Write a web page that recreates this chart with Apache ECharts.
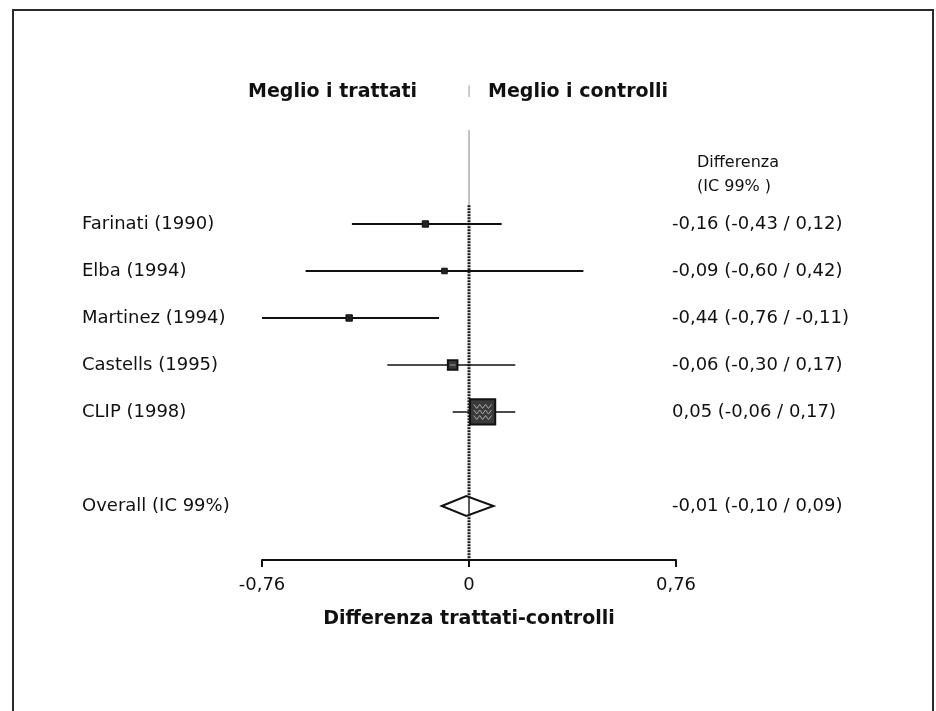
<!DOCTYPE html>
<html><head><meta charset="utf-8">
<script src="https://cdn.jsdelivr.net/npm/echarts@6/dist/echarts.min.js"></script>
<style>html,body{margin:0;padding:0;background:#fff}#c{width:936px;height:711px}</style>
</head><body><div id="c"></div>
<script>
// ---- data ----
const studies = ['Farinati (1990)', 'Elba (1994)', 'Martinez (1994)', 'Castells (1995)', 'CLIP (1998)'];
const estimate = [-0.16, -0.09, -0.44, -0.06, 0.05];
const lower    = [-0.43, -0.60, -0.76, -0.30, -0.06];
const upper    = [ 0.12,  0.42, -0.11,  0.17,  0.17];
const weight   = [4, 3, 4, 9, 62];           // relative study weight (box area)
const rows     = [0, 1, 2, 3, 4];
const overallLabel = 'Overall (IC 99%)';
const overall  = { est: -0.01, lo: -0.10, hi: 0.09, row: 6 };
const xTicks   = [-0.76, 0, 0.76];
const headLeft = 'Meglio i trattati';
const headRight = 'Meglio i controlli';
const colHead1 = 'Differenza';
const colHead2 = '(IC 99% )';
const xName = 'Differenza trattati-controlli';

const fmt = v => (v < 0 ? '-' : '') + Math.abs(v).toFixed(2).replace('.', ',');
const fmtTick = v => v === 0 ? '0' : fmt(v);
const ciText = (e, l, h) => fmt(e) + ' (' + fmt(l) + ' / ' + fmt(h) + ')';

const FONT = 'DejaVu Sans';
const chart = echarts.init(document.getElementById('c'), null, { renderer: 'canvas' });

const studyData = studies.map((s, i) => [estimate[i], lower[i], upper[i], rows[i], weight[i]]);

const LABEL_X = 82, VAL_X = 672;

chart.setOption({
  backgroundColor: '#ffffff',
  animation: false,
  grid: { left: 262, right: 260, top: 83, bottom: 151 },
  xAxis: {
    type: 'value', min: -0.76, max: 0.76, interval: 0.76, position: 'bottom',
    splitLine: { show: false },
    axisLine: { show: true, onZero: false, lineStyle: { color: '#111', width: 2 } },
    axisTick: { show: true, length: 7, lineStyle: { color: '#111', width: 2 } },
    axisLabel: { color: '#111', fontFamily: FONT, fontSize: 18, margin: 16,
      formatter: v => { const t = xTicks.find(x => Math.abs(x - v) < 1e-6); return t === undefined ? '' : fmtTick(t); } },
    name: xName, nameLocation: 'middle', nameGap: 50,
    nameTextStyle: { color: '#111', fontFamily: FONT, fontSize: 19, fontWeight: 'bold' }
  },
  yAxis: { type: 'value', min: -3, max: 7.15, inverse: true, show: false },
  graphic: [
    { type: 'rect', shape: { x: 13, y: 10, width: 920, height: 760 }, style: { fill: 'none', stroke: '#2a2a2a', lineWidth: 2 }, silent: true },
    { type: 'text', left: 248, top: 83, style: { text: headLeft, fill: '#111', font: 'bold 19px "DejaVu Sans"' } },
    { type: 'text', left: 488, top: 83, style: { text: headRight, fill: '#111', font: 'bold 19px "DejaVu Sans"' } },
    { type: 'text', left: 697, top: 155, style: { text: colHead1, fill: '#111', font: '16px "DejaVu Sans"' } },
    { type: 'text', left: 697, top: 179, style: { text: colHead2, fill: '#111', font: '16px "DejaVu Sans"' } }
  ],
  series: [
    { // reference (no-effect) line: faint upper part and dotted lower part
      type: 'custom', silent: true, clip: false, z: 1,
      data: [[0]],
      renderItem: (params, api) => {
        const x = api.coord([0, 0])[0];
        const y = r => api.coord([0, r])[1];
        return { type: 'group', children: [
          { type: 'line', shape: { x1: x, y1: y(-2.95), x2: x, y2: y(-2.7) }, style: { stroke: '#aaa', lineWidth: 1.2 } },
          { type: 'line', shape: { x1: x, y1: y(-2.0), x2: x, y2: y(-0.4) }, style: { stroke: '#999', lineWidth: 1.2 } },
          { type: 'line', shape: { x1: x, y1: y(-0.4), x2: x, y2: y(7.15) }, style: { stroke: '#1a1a1a', lineWidth: 3, lineDash: [2, 1] } }
        ] };
      }
    },
    { // studies: CI lines + weighted boxes + labels
      type: 'custom', silent: true, clip: false, z: 3,
      data: studyData,
      renderItem: (params, api) => {
        const i = params.dataIndex;
        const e = api.value(0), l = api.value(1), h = api.value(2), r = api.value(3), w = api.value(4);
        const y = api.coord([0, r])[1];
        const xl = api.coord([l, r])[0], xh = api.coord([h, r])[0], xc = api.coord([e, r])[0];
        const size = 3.2 * Math.sqrt(w);
        const big = size > 8;
        const children = [
          { type: 'line', shape: { x1: xl, y1: y, x2: xh, y2: y }, style: { stroke: '#111', lineWidth: big ? 1.6 : 2.2 } },
          { type: 'rect', shape: { x: xc - size / 2, y: y - size / 2, width: size, height: size },
            style: { fill: big ? '#3a3a3a' : '#222', stroke: '#111', lineWidth: big ? 2 : 1 } }
        ];
        if (size > 15) {
          for (let k = 0; k < 3; k++) {
            const yy = y - size / 2 + size * (0.28 + 0.22 * k);
            const pts = [];
            for (let j = 0; j <= 6; j++) pts.push([xc - size * 0.35 + j * size * 0.7 / 6, yy + (j % 2 ? 2 : -2)]);
            children.push({ type: 'polyline', shape: { points: pts }, style: { stroke: '#aaa', lineWidth: 1, fill: null } });
          }
        } else if (big) {
          children.push({ type: 'line', shape: { x1: xc - size * 0.3, y1: y, x2: xc + size * 0.3, y2: y }, style: { stroke: '#999', lineWidth: 1 } });
        }
        children.push({ type: 'text', x: LABEL_X, y: y, style: { text: studies[i], fill: '#111', font: '18px "DejaVu Sans"', verticalAlign: 'middle', align: 'left' } });
        children.push({ type: 'text', x: VAL_X, y: y, style: { text: ciText(e, l, h), fill: '#111', font: '18px "DejaVu Sans"', verticalAlign: 'middle', align: 'left' } });
        return { type: 'group', children };
      }
    },
    { // overall diamond
      type: 'custom', silent: true, clip: false, z: 2,
      data: [[overall.est, overall.lo, overall.hi, overall.row]],
      renderItem: (params, api) => {
        const e = api.value(0), l = api.value(1), h = api.value(2), r = api.value(3);
        const y = api.coord([0, r])[1];
        const xl = api.coord([l, r])[0], xh = api.coord([h, r])[0], xc = api.coord([e, r])[0];
        const hh = 10;
        return { type: 'group', children: [
          { type: 'polygon', shape: { points: [[xl, y], [xc, y - hh], [xh, y], [xc, y + hh]] }, style: { fill: '#fff', stroke: '#111', lineWidth: 2 } },
          { type: 'line', shape: { x1: api.coord([0, r])[0], y1: y - hh, x2: api.coord([0, r])[0], y2: y + hh }, style: { stroke: '#222', lineWidth: 1.5 } },
          { type: 'text', x: LABEL_X, y: y, style: { text: overallLabel, fill: '#111', font: '18px "DejaVu Sans"', verticalAlign: 'middle', align: 'left' } },
          { type: 'text', x: VAL_X, y: y, style: { text: ciText(e, l, h), fill: '#111', font: '18px "DejaVu Sans"', verticalAlign: 'middle', align: 'left' } }
        ] };
      }
    }
  ]
});
</script></body></html>
